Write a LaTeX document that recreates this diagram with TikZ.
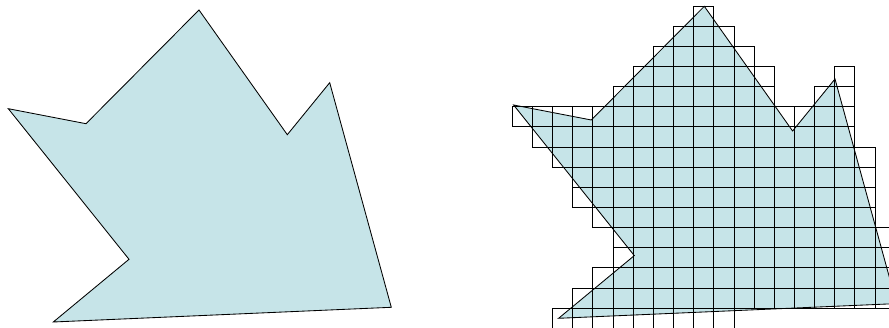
\documentclass[tikz,border=0pt]{standalone}
\definecolor{shapefill}{HTML}{C6E4E8}
\tikzset{
  outline/.style={draw=black, line width=0.85pt, line join=miter},
  cellbox/.style={draw=black, line width=0.9pt},
  polyfill/.style={fill=shapefill, draw=none}
}
\begin{document}
\begin{tikzpicture}[x=1pt,y=-1pt]
\useasboundingbox (0,0) rectangle (889,328);
\clip (0,0) rectangle (889,328);
% polygon path as a macro of coordinates
\def\polypath{(199,10) -- (287.3,134.7) -- (329.7,82.7) -- (391.3,307.3) -- (53.3,322) -- (129,259.3) -- (8.3,108.7) -- (86,123.7) -- cycle}
% left figure
\path[polyfill] \polypath;
\draw[outline] \polypath;
% right figure
\begin{scope}[shift={(505.3,-3.7)}]
  \path[polyfill] \polypath;
\end{scope}
\foreach \j/\s/\e in {0/9/9, 1/8/10, 2/7/11, 3/6/12, 3/16/16, 4/5/12, 4/15/16,
  5/0/16, 6/1/16, 7/2/17, 8/3/17, 9/3/17, 10/4/17, 11/5/18, 12/5/18,
  13/4/18, 14/3/18, 15/2/10}{
  \foreach \i in {\s,...,\e}{
    \draw[cellbox] ({512.3+\i*20.15},{6+\j*20.15}) rectangle ++(20.15,20.15);
  }
}
\begin{scope}[shift={(505.3,-3.7)}]
  \draw[outline] \polypath;
\end{scope}
\end{tikzpicture}
\end{document}
